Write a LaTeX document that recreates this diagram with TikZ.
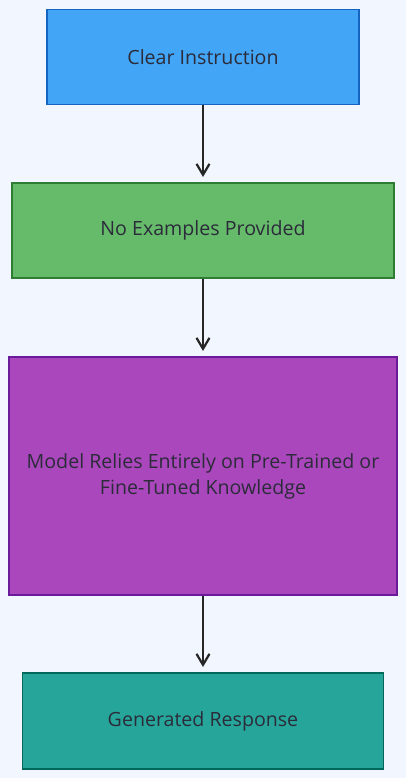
\documentclass[tikz,border=0pt]{standalone}
\usepackage{fontspec}
\setmainfont{Open Sans}
\usetikzlibrary{arrows.meta}
\definecolor{bg}{HTML}{F2F7FF}
\definecolor{bfill}{HTML}{42A5F5}\definecolor{bdraw}{HTML}{1565C0}
\definecolor{gfill}{HTML}{66BB6A}\definecolor{gdraw}{HTML}{2E7D32}
\definecolor{pfill}{HTML}{AB47BC}\definecolor{pdraw}{HTML}{6A1B9A}
\definecolor{tfill}{HTML}{26A69A}\definecolor{tdraw}{HTML}{00695C}
\definecolor{txt}{HTML}{2B2B3A}
\begin{document}
\begin{tikzpicture}[x=1pt,y=-1pt,
  boxstyle/.style={draw,line width=1.3pt,inner sep=0pt,text=txt,font=\fontsize{19.6}{26}\selectfont,align=center},
  flow/.style={draw=black!85,line width=2.6pt,-{Straight Barb[length=11pt,width=13pt,line width=2.2pt]},shorten >=1pt}]
\fill[bg] (0,0) rectangle (406,778);
\useasboundingbox (0,0) rectangle (406,778);
\node[boxstyle,fill=bfill,draw=bdraw,minimum width=312pt,minimum height=95pt] (a) at (203,57) {Clear Instruction};
\node[boxstyle,fill=gfill,draw=gdraw,minimum width=382pt,minimum height=95pt] (b) at (203,230.5) {No Examples Provided};
\node[boxstyle,fill=pfill,draw=pdraw,minimum width=388pt,minimum height=238pt] (c) at (203,476) {Model Relies Entirely on Pre-Trained or\\Fine-Tuned Knowledge};
\node[boxstyle,fill=tfill,draw=tdraw,minimum width=361pt,minimum height=96pt] (d) at (203,721) {Generated Response};
\coordinate (ae) at (203,178);
\coordinate (be) at (203,352);
\coordinate (ce) at (203,668);
\draw[flow] (a.south) -- (ae);
\draw[flow] (b.south) -- (be);
\draw[flow] (c.south) -- (ce);
\end{tikzpicture}
\end{document}
